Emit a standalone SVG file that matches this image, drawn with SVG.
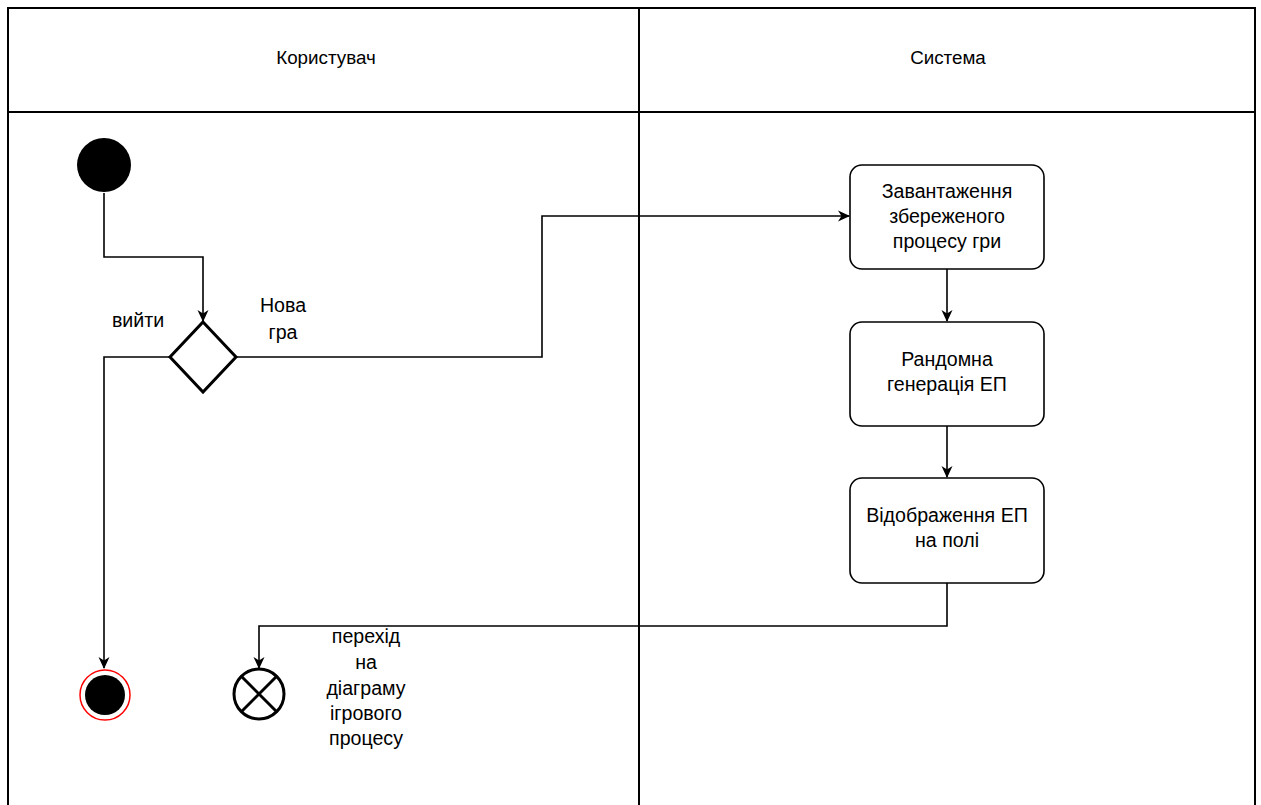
<svg xmlns="http://www.w3.org/2000/svg" width="1261" height="805" viewBox="0 0 1261 805">
<style>
text{font-family:"Liberation Sans",Arial,sans-serif;fill:#000;text-anchor:middle}
.h{font-size:18.8px}
.t{font-size:19.6px}
.lane{fill:none;stroke:#000;stroke-width:2}
.box{fill:#fff;stroke:#000;stroke-width:1.6}
.c{fill:none;stroke:#000;stroke-width:1.6}
</style>
<defs>
<marker id="a" viewBox="0 0 12 12" refX="11" refY="6" markerWidth="12" markerHeight="12" markerUnits="userSpaceOnUse" orient="auto">
<path d="M0,0.5 L12,6 L0,11.5 L3.5,6 Z" fill="#000"/>
</marker>
</defs>
<rect width="1261" height="805" fill="#fff"/>
<g id="lanes">
<rect class="lane" x="8" y="8" width="1247" height="820"/>
<line class="lane" x1="8" y1="112" x2="1255" y2="112"/>
<line class="lane" x1="639" y1="8" x2="639" y2="805"/>
<text class="h" x="326" y="64">Користувач</text>
<text class="h" x="948" y="64">Система</text>
</g>
<g id="connectors">
<path class="c" d="M104,193 V257 H203 V321" marker-end="url(#a)"/>
<path class="c" d="M170,357 H104 V668" marker-end="url(#a)"/>
<path class="c" d="M236,357 H542 V216 H849" marker-end="url(#a)"/>
<path class="c" d="M947,269 V321" marker-end="url(#a)"/>
<path class="c" d="M947,426 V477" marker-end="url(#a)"/>
<path class="c" d="M947,583 V626 H259 V668" marker-end="url(#a)"/>
</g>
<g id="start"><circle cx="104" cy="165" r="27" fill="#000"/></g>
<g id="decision">
<polygon points="203,322 236,357 203,392 170,357" fill="#fff" stroke="#000" stroke-width="3"/>
<text class="t" x="138" y="327">вийти</text>
<text class="t" x="283" y="312">Нова</text>
<text class="t" x="283" y="339">гра</text>
</g>
<g id="load">
<rect class="box" x="850" y="165" width="194" height="104" rx="12"/>
<text class="t" x="947" y="198">Завантаження</text>
<text class="t" x="947" y="223">збереженого</text>
<text class="t" x="947" y="248">процесу гри</text>
</g>
<g id="random">
<rect class="box" x="850" y="322" width="194" height="104" rx="12"/>
<text class="t" x="947" y="366">Рандомна</text>
<text class="t" x="947" y="391">генерація ЕП</text>
</g>
<g id="display">
<rect class="box" x="850" y="478" width="194" height="105" rx="12"/>
<text class="t" x="947" y="522">Відображення ЕП</text>
<text class="t" x="947" y="547">на полі</text>
</g>
<g id="end">
<circle cx="105" cy="695" r="25" fill="#fff" stroke="#f00" stroke-width="1.5"/>
<circle cx="105" cy="695" r="20" fill="#000"/>
</g>
<g id="flowfinal">
<circle cx="259" cy="694" r="25" fill="#fff" stroke="#000" stroke-width="3"/>
<line x1="241.3" y1="676.3" x2="276.7" y2="711.7" stroke="#000" stroke-width="3"/>
<line x1="276.7" y1="676.3" x2="241.3" y2="711.7" stroke="#000" stroke-width="3"/>
<text class="t" x="366" y="643">перехід</text>
<text class="t" x="366" y="669">на</text>
<text class="t" x="366" y="695">діаграму</text>
<text class="t" x="366" y="720">ігрового</text>
<text class="t" x="366" y="745">процесу</text>
</g>
</svg>
